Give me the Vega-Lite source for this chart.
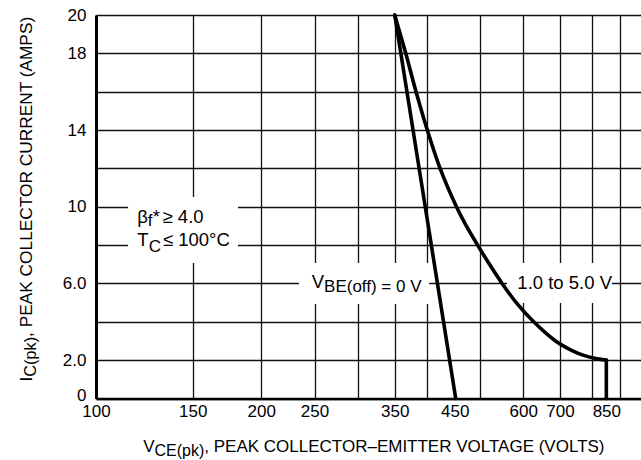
{
  "$schema": "https://vega.github.io/schema/vega-lite/v6.json",
  "width": 545,
  "height": 383.5,
  "autosize": {"type": "none"},
  "padding": {"left": 96, "top": 15, "right": 0, "bottom": 61.5},
  "background": "white",
  "config": {
    "font": "Liberation Sans",
    "view": {"stroke": null},
    "axis": {"titleFontWeight": "normal", "titleColor": "black", "labelColor": "black", "ticks": false, "tickSize": 0, "titleFont": "Liberation Sans", "labelFont": "Liberation Sans"}
  },
  "datasets": {
    "boxes": [
      {"x": 114.4, "x2": 181.4, "y": 7.07, "y2": 10.51},
      {"x": 234.3, "x2": 404.2, "y": 4.93, "y2": 7.07},
      {"x": 560.5, "x2": 870.2, "y": 4.98, "y2": 7.07}
    ],
    "curves": [
      {"s": "0V", "i": 0, "v": 350, "a": 20},
      {"s": "0V", "i": 1, "v": 452, "a": 0},
      {"s": "1to5", "i": 0, "v": 350, "a": 20},
      {"s": "1to5", "i": 1, "v": 366.5, "a": 18},
      {"s": "1to5", "i": 2, "v": 382.7, "a": 16},
      {"s": "1to5", "i": 3, "v": 401.2, "a": 14},
      {"s": "1to5", "i": 4, "v": 423.3, "a": 12},
      {"s": "1to5", "i": 5, "v": 453.4, "a": 10},
      {"s": "1to5", "i": 6, "v": 472.5, "a": 9},
      {"s": "1to5", "i": 7, "v": 495.5, "a": 8},
      {"s": "1to5", "i": 8, "v": 520.7, "a": 7},
      {"s": "1to5", "i": 9, "v": 549.1, "a": 6},
      {"s": "1to5", "i": 10, "v": 582.6, "a": 5},
      {"s": "1to5", "i": 11, "v": 626.8, "a": 4},
      {"s": "1to5", "i": 12, "v": 687, "a": 3},
      {"s": "1to5", "i": 13, "v": 736.3, "a": 2.5},
      {"s": "1to5", "i": 14, "v": 773.4, "a": 2.25},
      {"s": "1to5", "i": 15, "v": 809.8, "a": 2.1},
      {"s": "1to5", "i": 16, "v": 850, "a": 2.0},
      {"s": "drop", "i": 0, "v": 850, "a": 2.0},
      {"s": "drop", "i": 1, "v": 850, "a": 0}
    ],
    "labels": [
      {"k": "main", "x": 118.9, "y": 9.15, "t": "β"},
      {"k": "main", "x": 126.9, "y": 9.15, "t": "*"},
      {"k": "main", "x": 132.2, "y": 9.15, "t": "≥ 4.0"},
      {"k": "main", "x": 118.9, "y": 7.95, "t": "T"},
      {"k": "main", "x": 132.4, "y": 7.95, "t": "≤ 100°C"},
      {"k": "main", "x": 247.1, "y": 5.74, "t": "V"},
      {"k": "main", "x": 585.3, "y": 5.71, "t": "1.0 to 5.0 V"},
      {"k": "sub", "x": 124.3, "y": 9.0, "t": "f"},
      {"k": "sub", "x": 124.7, "y": 7.66, "t": "C"},
      {"k": "sub", "x": 260.2, "y": 5.53, "t": "BE(off) = 0 V"}
    ]
  },
  "layer": [
    {
      "data": {"name": "boxes"},
      "mark": {"type": "rect", "fill": "white"},
      "encoding": {
        "x": {
          "field": "x", "type": "quantitative",
          "scale": {"type": "log", "domain": [100, 983], "nice": false},
          "axis": {
            "orient": "bottom",
            "values": [100, 150, 200, 250, 300, 350, 400, 450, 500, 600, 700, 800, 850, 900],
            "grid": true, "gridColor": "#111", "gridWidth": 1.3,
            "gridOpacity": {"condition": {"test": "datum.value == 450 || datum.value == 850", "value": 0}, "value": 1},
            "labelExpr": "indexof([100,150,200,250,350,450,600,700,850], datum.value) >= 0 ? format(datum.value, 'd') : ''",
            "labelFontSize": 17, "labelPadding": 5, "labelFlush": false, "labelOverlap": false, "labelBound": false,
            "domain": true, "domainColor": "black", "domainWidth": 2.5,
            "ticks": false,
            "title": ", PEAK COLLECTOR–EMITTER VOLTAGE (VOLTS)",
            "titleFontSize": 17, "titleAlign": "left", "titleBaseline": "alphabetic",
            "titleX": 107.8, "titleY": 52.5
          }
        },
        "x2": {"field": "x2"},
        "y": {
          "field": "y", "type": "quantitative",
          "scale": {"domain": [0, 20], "nice": false},
          "axis": {
            "orient": "left",
            "values": [0, 2, 4, 6, 8, 10, 12, 14, 16, 18, 20],
            "grid": true, "gridColor": "#111", "gridWidth": 1.3,
            "labelExpr": "datum.value == 0 ? '0' : datum.value == 2 ? '2.0' : datum.value == 6 ? '6.0' : (datum.value == 10 || datum.value == 14 || datum.value == 18 || datum.value == 20) ? '' + datum.value : ''",
            "labelFontSize": 17, "labelPadding": 10, "labelOverlap": false, "labelBound": false,
            "labelOffset": {"condition": {"test": "datum.value == 0", "value": -3}, "value": 0},
            "domain": true, "domainColor": "black", "domainWidth": 3,
            "ticks": false,
            "title": ", PEAK COLLECTOR CURRENT (AMPS)",
            "titleFontSize": 17.3, "titleAngle": 270, "titleAlign": "left", "titleBaseline": "alphabetic",
            "titleX": -65, "titleY": 321.4
          }
        },
        "y2": {"field": "y2"}
      }
    },
    {
      "data": {"name": "curves"},
      "mark": {"type": "line", "color": "black", "strokeWidth": 3.6, "strokeJoin": "round", "strokeCap": "round", "interpolate": "catmull-rom"},
      "encoding": {
        "x": {
          "field": "v", "type": "quantitative",
          "scale": {"type": "log", "domain": [100, 983], "nice": false},
          "axis": {"orient": "bottom", "grid": false, "labels": false, "domain": false, "ticks": false,
                   "title": "V", "titleFontSize": 17, "titleAlign": "left", "titleBaseline": "alphabetic",
                   "titleX": 46.7, "titleY": 52.5}
        },
        "y": {
          "field": "a", "type": "quantitative",
          "scale": {"domain": [0, 20], "nice": false},
          "axis": {"orient": "left", "grid": false, "labels": false, "domain": false, "ticks": false,
                   "title": "I", "titleFontSize": 17.3, "titleAngle": 270, "titleAlign": "left", "titleBaseline": "alphabetic",
                   "titleX": -65, "titleY": 366}
        },
        "detail": {"field": "s"},
        "order": {"field": "i", "type": "quantitative"}
      }
    },
    {
      "data": {"name": "labels"},
      "transform": [{"filter": "datum.k == 'main'"}],
      "mark": {"type": "text", "align": "left", "baseline": "alphabetic", "fontSize": 18.5, "color": "black", "font": "Liberation Sans"},
      "encoding": {
        "x": {
          "field": "x", "type": "quantitative",
          "scale": {"type": "log", "domain": [100, 983], "nice": false},
          "axis": {"orient": "bottom", "grid": false, "labels": false, "domain": false, "ticks": false,
                   "title": "CE(pk)", "titleFontSize": 16, "titleAlign": "left", "titleBaseline": "alphabetic",
                   "titleX": 58, "titleY": 56.5}
        },
        "y": {
          "field": "y", "type": "quantitative",
          "scale": {"domain": [0, 20], "nice": false},
          "axis": {"orient": "left", "grid": false, "labels": false, "domain": false, "ticks": false,
                   "title": "C(pk)", "titleFontSize": 16.3, "titleAngle": 270, "titleAlign": "left", "titleBaseline": "alphabetic",
                   "titleX": -61, "titleY": 361.2}
        },
        "text": {"field": "t"}
      }
    },
    {
      "data": {"name": "labels"},
      "transform": [{"filter": "datum.k == 'sub'"}],
      "mark": {"type": "text", "align": "left", "baseline": "alphabetic", "fontSize": 17, "color": "black", "font": "Liberation Sans"},
      "encoding": {
        "x": {"field": "x", "type": "quantitative", "scale": {"type": "log", "domain": [100, 983], "nice": false}, "axis": null},
        "y": {"field": "y", "type": "quantitative", "scale": {"domain": [0, 20], "nice": false}, "axis": null},
        "text": {"field": "t"}
      }
    }
  ],
  "resolve": {"axis": {"x": "independent", "y": "independent"}}
}
